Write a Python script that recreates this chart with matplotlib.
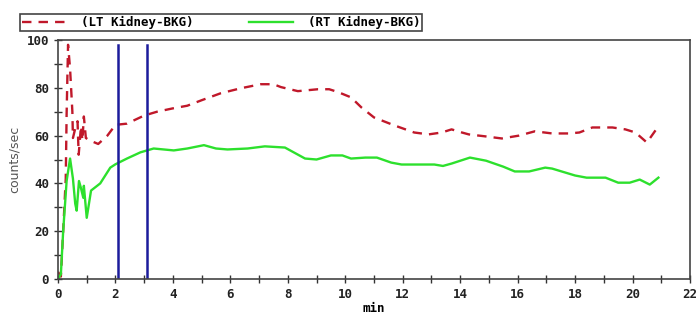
import numpy as np
import matplotlib.pyplot as plt
from matplotlib.ticker import MultipleLocator

# LT kidney (background corrected)
lt_t = [0.0, 0.1, 0.18, 0.27, 0.3, 0.35, 0.42, 0.5, 0.52, 0.6, 0.68, 0.72, 0.8, 0.85,
        0.9, 0.97, 1.1, 1.4, 1.72, 2.0, 2.4, 3.0, 3.45, 4.0, 4.5, 5.0, 5.66, 6.36,
        7.06, 7.5, 7.76, 8.35, 9.05, 9.44, 9.75, 10.2, 10.56, 11.0, 11.7, 12.4,
        12.9, 13.36, 13.7, 14.06, 14.3, 14.86, 15.45, 16.05, 16.6, 17.2, 17.8,
        18.15, 18.6, 19.3, 19.75, 20.1, 20.5, 20.8]
lt_v = [3, 1, 20, 42, 69, 98, 88, 70, 59, 63, 66, 52, 64, 58,
        68, 59, 58, 56.5, 60, 64.5, 65, 68.4, 70, 71.4, 72.5, 74.8, 77.7, 79.8,
        81.5, 81.5, 80.3, 78.6, 79.4, 79.4, 78.2, 76, 71.8, 67.6, 64.3, 61.3,
        60.5, 61.3, 62.6, 61.3, 60.5, 59.7, 58.8, 60, 61.8, 60.9, 60.9,
        61.3, 63.4, 63.4, 62.6, 61.3, 57.1, 62.2]

# RT kidney (background corrected)
rt_t = [0.0, 0.1, 0.18, 0.3, 0.42, 0.52, 0.6, 0.65, 0.73, 0.8, 0.88, 0.9, 1.0,
        1.15, 1.47, 1.82, 2.0, 2.4, 2.87, 3.33, 4.03, 4.5, 5.08, 5.5, 5.9, 6.6,
        7.2, 7.9, 8.6, 9.0, 9.5, 9.9, 10.2, 10.7, 11.1, 11.6, 11.96, 13.1, 13.4,
        13.7, 14.34, 14.9, 15.5, 15.9, 16.4, 16.96, 17.2, 18.0, 18.4, 19.06,
        19.5, 19.9, 20.25, 20.6, 20.9]
rt_v = [0, 2, 20, 41, 50.4, 42, 31.5, 28.6, 41, 38, 34, 39, 25.6,
        37, 40, 46.6, 48, 50.4, 53, 54.6, 53.8, 54.6, 56, 54.6, 54.2, 54.6,
        55.5, 55, 50.4, 50, 51.7, 51.7, 50.4, 50.8, 50.8, 48.7, 47.9, 47.9, 47.3,
        48.3, 50.8, 49.5, 47, 45, 45, 46.6, 46.2, 43.3, 42.4, 42.4,
        40.3, 40.3, 41.6, 39.5, 42.4]

# region markers (min)
markers = [2.1, 3.1]

mono = 'DejaVu Sans Mono'

fig = plt.figure(figsize=(6.96, 3.21), dpi=100)
ax = fig.add_axes([58 / 696, 1 - 279 / 321, 632 / 696, 239 / 321])

l1, = ax.plot(lt_t, lt_v, color='#c0182a', lw=1.7, dashes=(4, 3), label='(LT Kidney-BKG)')
l2, = ax.plot(rt_t, rt_v, color='#2de02d', lw=1.7, label='(RT Kidney-BKG)')
for m in markers:
    ax.plot([m, m], [0, 98], color='#1c1c9c', lw=1.8)

ax.set_xlim(0, 22)
ax.set_ylim(0, 100)
ax.xaxis.set_major_locator(MultipleLocator(2))
ax.xaxis.set_minor_locator(MultipleLocator(1))
ax.yaxis.set_major_locator(MultipleLocator(20))
ax.yaxis.set_minor_locator(MultipleLocator(10))
ax.tick_params(which='both', direction='inout', length=6, width=1, color='#333333')
ax.tick_params(labelsize=9)
for lab in ax.get_xticklabels() + ax.get_yticklabels():
    lab.set_fontfamily(mono)
    lab.set_fontweight('bold')
    lab.set_color('#222222')
for s in ax.spines.values():
    s.set_color('#444444')
    s.set_linewidth(1.2)

ax.set_xlabel('min', fontfamily=mono, fontweight='bold', fontsize=9, labelpad=1)
ax.set_ylabel('counts/sec', fontsize=9, color='#555555', labelpad=4)

leg = fig.legend(handles=[l1, l2], loc='lower left', ncol=2, mode='expand',
                 bbox_to_anchor=(20 / 696, 1 - 31 / 321, 402 / 696, 19 / 321),
                 prop={'family': mono, 'weight': 'bold', 'size': 9},
                 handlelength=3.5, fancybox=False, framealpha=1,
                 borderpad=0.15, borderaxespad=0, handletextpad=1.2)
leg.get_frame().set_edgecolor('#444444')
leg.get_frame().set_linewidth(1.2)

fig.savefig('out.png', dpi=100)
